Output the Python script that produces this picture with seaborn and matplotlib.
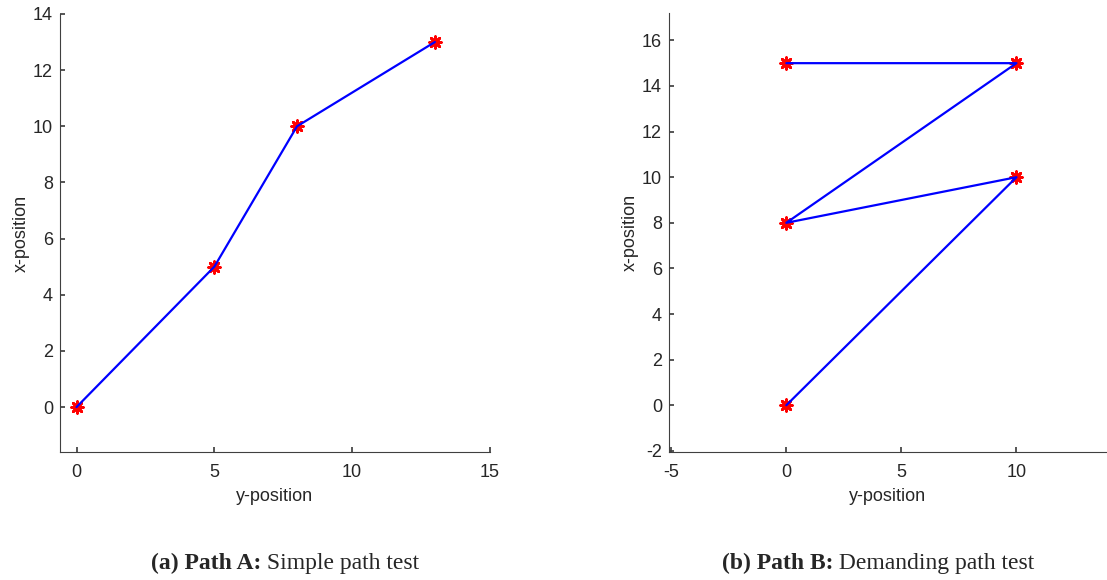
import matplotlib
matplotlib.use("Agg")
import matplotlib.pyplot as plt
import seaborn as sns
import pandas as pd

# Path A waypoints (horizontal axis = y-position, vertical axis = x-position)
path_a_y = [0, 5, 8, 13]
path_a_x = [0, 5, 10, 13]

# Path B waypoints
path_b_y = [0, 10, 0, 10, 0]
path_b_x = [0, 10, 8, 15, 15]

xticks_a = [0, 5, 10, 15]
yticks_a = [0, 2, 4, 6, 8, 10, 12, 14]
xticks_b = [-5, 0, 5, 10]
yticks_b = [-2, 0, 2, 4, 6, 8, 10, 12, 14, 16]

captions = [("(a) Path A:", " Simple path test"),
            ("(b) Path B:", " Demanding path test")]

sns.set_theme(style="ticks")
plt.rcParams.update({
    "font.family": ["Liberation Sans", "DejaVu Sans"],
    "axes.unicode_minus": False,
    "axes.edgecolor": "#404040",
    "axes.linewidth": 0.8,
    "xtick.direction": "in",
    "ytick.direction": "in",
    "xtick.color": "#404040",
    "ytick.color": "#404040",
    "xtick.labelcolor": "#262626",
    "ytick.labelcolor": "#262626",
    "xtick.labelsize": 13,
    "ytick.labelsize": 13,
    "xtick.major.size": 3.5,
    "ytick.major.size": 3.5,
    "xtick.major.pad": 8.5,
    "ytick.major.pad": 5,
    "axes.labelsize": 13,
    "axes.labelcolor": "#262626",
})

fig = plt.figure(figsize=(11.07, 5.8), dpi=100)
ax_a = fig.add_axes([0.0542, 0.2207, 0.3884, 0.7552])
ax_b = fig.add_axes([0.6043, 0.2207, 0.3950, 0.7569])


def draw_path(ax, ys, xs):
    df = pd.DataFrame({"y": ys, "x": xs})
    sns.scatterplot(data=df, x="y", y="x", ax=ax, marker=(8, 2, 0),
                    color="red", edgecolor="red", linewidth=2.0, s=70,
                    zorder=2)
    sns.lineplot(data=df, x="y", y="x", ax=ax, sort=False, estimator=None,
                 color="blue", linewidth=1.6, zorder=3)
    ax.set_xlabel("y-position", labelpad=5)
    ax.set_ylabel("x-position", labelpad=2)
    sns.despine(ax=ax)


draw_path(ax_a, path_a_y, path_a_x)
ax_a.set_xlim(-0.6, 15)
ax_a.set_ylim(-1.6, 14)
ax_a.set_xticks(xticks_a)
ax_a.set_yticks(yticks_a)

draw_path(ax_b, path_b_y, path_b_x)
ax_b.set_xlim(-5.1, 13.9)
ax_b.set_ylim(-2.05, 17.2)
ax_b.set_xticks(xticks_b)
ax_b.set_yticks(yticks_b)

# captions: bold lead-in followed by regular text, centred under each panel
renderer = fig.canvas.get_renderer()
centers = [285 / 1107, 878 / 1107]
cap_y = 1 - 563 / 580
for (bold, rest), cx in zip(captions, centers):
    tb = fig.text(0, cap_y, bold, fontweight="bold", fontsize=17,
                  family="Liberation Serif", va="center", ha="left")
    tr = fig.text(0, cap_y, rest, fontsize=17,
                  family="Liberation Serif", va="center", ha="left")
    wb = tb.get_window_extent(renderer).width / fig.bbox.width
    wr = tr.get_window_extent(renderer).width / fig.bbox.width
    start = cx - (wb + wr) / 2
    tb.set_x(start)
    tr.set_x(start + wb)

fig.savefig("out.png", dpi=100)
